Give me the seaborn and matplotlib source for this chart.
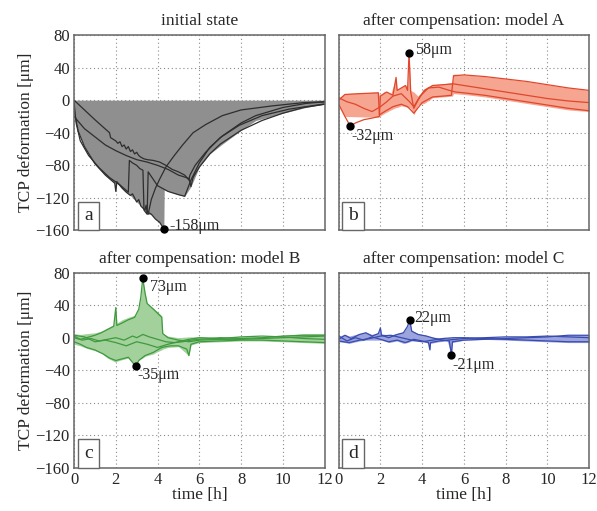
import numpy as np
import pandas as pd
import matplotlib
matplotlib.use("Agg")
import matplotlib.pyplot as plt
import seaborn as sns

# ---- panel a: initial state ----
a_lines_t = [
    [0, 0.05, 0.2, 0.5, 1.0, 1.5, 1.95, 2.0, 2.05, 2.3, 2.5, 2.7, 2.8, 3.0, 3.1, 3.2, 3.4, 3.45, 3.5, 3.7, 3.9, 4.1, 4.3],
    [0, 0.1, 0.3, 0.7, 1.2, 1.7, 2.2, 2.6, 2.65, 2.8, 3.0, 3.15, 3.3, 3.35, 3.5, 3.55, 4.0, 4.5, 5.0, 5.3, 5.6, 6.0, 6.5, 7.1, 8.0, 8.7, 10, 11.1, 12],
    [0, 0.5, 1.0, 1.7, 1.75, 2.0, 2.1, 2.2, 2.3, 2.4, 2.5, 2.6, 2.7, 2.8, 2.9, 3.0, 3.1, 3.2, 3.35, 3.5, 3.8, 4.1, 4.4, 4.7, 5.0, 5.3, 5.5, 5.55, 5.8, 6.3, 7.0, 7.9, 9.0, 10.3, 11.9, 12],
    [0, 0.5, 1.0, 1.5, 2.0, 2.5, 3.0, 3.5, 4.0, 4.5, 5.0, 5.5, 5.6, 5.7, 6.0, 6.5, 7.0, 8.0, 9.0, 10, 11, 12],
    [3.55, 3.7, 3.9, 4.1, 4.4, 4.8, 5.2, 5.7, 6.3, 7.1, 8.0, 9.5, 11, 12],
]
a_lines_v = [
    [0, -18, -38, -57, -78, -92, -102, -112, -100, -108, -113, -117, -115, -125, -122, -130, -135, -129, -137, -140, -146, -150, -158],
    [-5, -28, -50, -68, -83, -95, -104, -113, -74, -77, -80, -84, -86, -135, -140, -88, -105, -112, -116, -118, -98, -77, -58, -44, -28, -19, -9, -4, -2],
    [0, -12, -24, -40, -46, -50, -53, -51, -57, -55, -60, -57, -63, -61, -66, -64, -68, -70, -72, -73, -74, -76, -80, -85, -88, -92, -98, -92, -80, -64, -46, -31, -19, -11, -5, -5],
    [-20, -35, -45, -55, -62, -68, -73, -76, -80, -85, -92, -96, -106, -95, -82, -66, -54, -37, -25, -16, -9, -5],
    [-140, -122, -108, -97, -82, -68, -55, -40, -30, -19, -12, -7, -3, -2],
]
a_env_t = [0, 0.05, 0.2, 0.5, 1.0, 1.5, 1.95, 2.0, 2.05, 2.5, 2.7, 3.0, 3.2, 3.35, 3.5, 3.7, 3.9, 4.1, 4.3, 4.32, 4.5, 5.0, 5.3, 5.6, 6.0, 6.5, 7.1, 8.0, 8.7, 10, 11.1, 12]
a_env_lo = [0, -18, -38, -57, -78, -92, -102, -112, -102, -113, -117, -125, -130, -135, -140, -140, -146, -150, -158, -110, -112, -116, -118, -106, -82, -66, -54, -37, -25, -16, -9, -5]
a_env_hi = [0] * len(a_env_t)
a_marks = [(4.3, -158)]

# ---- panel b: model A ----
b_lines_t = [
    [0, 0.3, 1.0, 1.9, 1.95, 2.2, 2.6, 3.0, 3.3, 3.6, 4.0, 4.5, 5.0, 5.4, 5.5, 6, 7, 8, 9, 10, 11, 12],
    [0, 0.3, 0.56, 0.8, 1.2, 1.6, 1.95, 2.0, 2.3, 2.6, 2.75, 2.8, 3.0, 3.2, 3.3, 3.37, 3.45, 3.6, 3.8, 4.1, 4.5, 5.0, 5.5, 6, 7, 8, 9, 10, 11, 12],
    [0, 0.4, 0.8, 1.2, 1.6, 2.0, 2.3, 2.6, 3.0, 3.4, 3.6, 3.9, 4.3, 4.8, 5.3, 5.6, 6, 7, 8, 9, 10, 11, 12],
]
b_lines_v = [
    [0, 7, 8, 9, -18, -14, -8, -5, -8, -16, -3, 4, 5, 6, 30, 31, 29, 26, 23, 19, 15, 12],
    [-5, -20, -32, -28, -24, -22, -20, 5, 10, 6, 28, 12, 15, 18, 12, 58, 10, -10, 0, 12, 18, 19, 20, 18, 14, 10, 6, 2, -1, -3],
    [3, -2, -5, -10, -14, -8, -2, 5, 8, -2, -8, 5, 15, 16, 12, 10, 9, 6, 2, -2, -6, -10, -13],
]
b_env_t = [0, 0.3, 1.9, 1.95, 2.2, 2.5, 2.75, 2.8, 3.0, 3.2, 3.3, 3.37, 3.45, 3.6, 3.8, 4.1, 4.5, 5.0, 5.45, 5.5, 6, 7, 8, 9, 10, 11, 12]
b_env_hi = [3, 8, 10, 6, 11, 8, 28, 13, 16, 19, 14, 58, 12, 10, 5, 14, 19, 20, 22, 32, 31, 29, 26, 23, 19, 15, 12]
b_env_lo = [-6, -20, -21, -20, -16, -12, -9, -9, -7, -8, -9, -9, -10, -18, -6, -4, 3, 4, 5, 8, 7, 4, 0, -4, -8, -12, -14]
b_marks = [(3.37, 58), (0.56, -32)]

# ---- panel c: model B ----
c_lines_t = [
    [0, 0.3, 0.6, 1.0, 1.3, 1.6, 1.9, 2.0, 2.05, 2.3, 2.6, 2.9, 3.1, 3.2, 3.29, 3.4, 3.5, 3.8, 4.0, 4.2, 4.25, 4.5, 5, 5.5, 6, 7, 8, 9, 10, 11, 12],
    [0, 0.3, 0.6, 1.0, 1.4, 1.7, 2.0, 2.3, 2.6, 2.95, 3.1, 3.4, 3.8, 4.2, 4.6, 5.0, 5.4, 5.5, 5.6, 6, 7, 8, 9, 10, 11, 12],
    [0, 0.4, 0.8, 1.2, 1.6, 2.0, 2.4, 2.8, 3.0, 3.3, 3.6, 4.0, 4.4, 4.8, 5.2, 5.6, 6, 7, 8, 9, 10, 11, 12],
    [0, 0.5, 1.0, 1.5, 2.0, 2.5, 3.0, 3.5, 4.0, 4.5, 5.0, 5.5, 6, 7, 8, 9, 10, 11, 12],
]
c_lines_v = [
    [2, -2, 0, 3, 6, 10, 14, 37, 15, 18, 22, 25, 35, 50, 73, 55, 42, 35, 30, 25, 5, 0, -3, -5, -3, -2, -2, -1, 0, 1, 2],
    [-5, -8, -12, -15, -20, -25, -28, -26, -24, -35, -28, -22, -18, -12, -10, -10, -14, -22, -8, -5, -4, -3, -3, -4, -5, -6],
    [0, -3, -1, -4, -2, 0, -3, 2, 0, 4, 1, -2, -5, -6, -5, -3, -2, 0, -1, 0, 2, 3, 3],
    [3, 1, -5, -3, -6, -10, -5, -8, -12, -8, -5, -2, 0, -1, 1, 2, 1, -1, -2],
]
c_env_t = [0, 0.3, 0.6, 1.0, 1.3, 1.6, 1.9, 2.0, 2.05, 2.3, 2.6, 2.95, 3.1, 3.2, 3.29, 3.4, 3.5, 3.8, 4.0, 4.2, 4.25, 4.5, 5, 5.5, 5.6, 6, 7, 8, 9, 10, 11, 12]
c_env_hi = [5, 4, 5, 6, 8, 12, 16, 37, 18, 22, 25, 28, 36, 50, 73, 55, 42, 36, 32, 27, 5, 2, 0, 1, 1, 1, 0, 1, 1, 3, 5, 5]
c_env_lo = [-8, -10, -13, -16, -19, -25, -29, -30, -29, -27, -25, -35, -28, -26, -25, -23, -22, -20, -17, -15, -14, -12, -11, -22, -9, -6, -5, -4, -4, -5, -6, -7]
c_marks = [(3.29, 73), (2.95, -35)]

# ---- panel d: model C ----
d_lines_t = [
    [0, 0.3, 0.6, 1.0, 1.3, 1.6, 1.9, 2.0, 2.05, 2.4, 2.8, 3.1, 3.3, 3.4, 3.5, 3.8, 4.2, 4.6, 5.0, 5.3, 5.4, 5.45, 6, 7, 8, 9, 10, 11, 12],
    [0, 0.4, 0.8, 1.2, 1.6, 2.0, 2.4, 2.8, 3.2, 3.6, 4.0, 4.3, 4.37, 4.4, 4.8, 5.2, 6, 7, 8, 9, 10, 11, 12],
    [0, 0.5, 1.0, 1.5, 2.0, 2.5, 3.0, 3.5, 4.0, 4.5, 5.0, 5.5, 6, 7, 8, 9, 10, 11, 12],
]
d_lines_v = [
    [-2, 3, -1, 4, 6, 2, 5, 12, 3, 0, 4, 6, 14, 22, 8, 4, 2, -1, -3, -4, -21, -5, -3, -2, -1, 0, 1, 3, 3],
    [2, -4, 0, -3, 1, -2, -5, -3, -6, -2, -4, -6, -15, -6, -4, -3, -1, 0, 1, 1, 2, 1, 0],
    [-4, -6, -3, -1, 2, 3, 0, -3, -5, -3, -1, 0, 0, -1, -2, -3, -4, -5, -5],
]
d_env_t = [0, 0.3, 0.5, 1.0, 1.3, 1.6, 1.9, 2.0, 2.05, 2.4, 2.8, 3.1, 3.3, 3.4, 3.5, 3.8, 4.2, 4.3, 4.37, 4.4, 4.8, 5.2, 5.4, 5.45, 6, 7, 8, 9, 10, 11, 12]
d_env_hi = [2, 4, 2, 5, 7, 4, 6, 12, 5, 3, 5, 7, 14, 22, 9, 5, 3, 2, 1, 1, 0, 0, 0, 0, 0, 0, 1, 1, 2, 3, 4]
d_env_lo = [-5, -6, -7, -4, -3, -3, -3, -3, -3, -6, -4, -7, -6, -5, -4, -4, -6, -7, -15, -7, -5, -4, -21, -6, -3, -2, -3, -4, -5, -6, -6]
d_marks = [(3.4, 22), (5.4, -21)]

titles = ["initial state", "after compensation: model A",
          "after compensation: model B", "after compensation: model C"]
letters = ["a", "b", "c", "d"]
fill_colors = ["#8f8f8f", "#f6a590", "#a3d19b", "#9ba4dc"]
line_colors = ["#2e2e2e", "#e0472c", "#3f9a3f", "#3a4bb0"]

sns.set_theme(style="white")
plt.rcParams["font.family"] = ["Liberation Serif", "DejaVu Serif"]

fig, axes = plt.subplots(2, 2, figsize=(5.97, 5.11), dpi=100, sharex=True, sharey=True)
fig.subplots_adjust(left=0.124, right=0.987, top=0.9315, bottom=0.0841,
                    wspace=0.056, hspace=0.215)

panels = [
    (a_lines_t, a_lines_v, a_env_t, a_env_lo, a_env_hi, a_marks),
    (b_lines_t, b_lines_v, b_env_t, b_env_lo, b_env_hi, b_marks),
    (c_lines_t, c_lines_v, c_env_t, c_env_lo, c_env_hi, c_marks),
    (d_lines_t, d_lines_v, d_env_t, d_env_lo, d_env_hi, d_marks),
]
# label offsets in points for each annotation
offsets = [[(4, 2)],
           [(4, 2), (1, -7)],
           [(5, -6), (1, -6)],
           [(3, 1), (1, -7)]]

for i, ax in enumerate(axes.flat):
    lines_t, lines_v, env_t, env_lo, env_hi, marks = panels[i]
    ax.fill_between(env_t, env_lo, env_hi, color=fill_colors[i], lw=0, zorder=1)
    rows = []
    for k, (tt, vv) in enumerate(zip(lines_t, lines_v)):
        for t, v in zip(tt, vv):
            rows.append({"run": k, "t": t, "v": v})
    df = pd.DataFrame(rows)
    sns.lineplot(data=df, x="t", y="v", units="run", estimator=None, sort=False,
                 color=line_colors[i], lw=0.9, ax=ax, zorder=2)
    for (mt, mv), (dx, dy) in zip(marks, offsets[i]):
        ax.plot(mt, mv, "o", color="black", ms=5, zorder=5, clip_on=False)
        ax.annotate(f"{mv}μm", (mt, mv), xytext=(dx, dy), textcoords="offset points",
                    ha="left", va="center", fontsize=11.5, zorder=6)
    ax.text(0.058, 0.075, letters[i], transform=ax.transAxes, fontsize=14,
            ha="center", va="center", zorder=6,
            bbox=dict(boxstyle="square,pad=0.3", fc="white", ec="#666666", lw=1))
    ax.set_title(titles[i], fontsize=12.5, pad=7)
    ax.set_xlim(0, 12)
    ax.set_ylim(-160, 80)
    ax.set_xticks(range(0, 13, 2))
    ax.set_yticks(range(-160, 81, 40))
    ax.grid(True, ls=(0, (1, 2.5)), color="#8a8a8a", lw=0.8)
    ax.set_axisbelow(True)
    for s in ax.spines.values():
        s.set_color("#666666")
        s.set_linewidth(1.1)
    ax.tick_params(direction="in", length=3, labelsize=12, color="#666666", pad=3)
    ax.set_xlabel("time [h]" if i >= 2 else "", fontsize=12.5, labelpad=-1)
    ax.set_ylabel("TCP deformation [μm]" if i % 2 == 0 else "", fontsize=12.5, labelpad=1)

plt.savefig("out.png", dpi=100)
